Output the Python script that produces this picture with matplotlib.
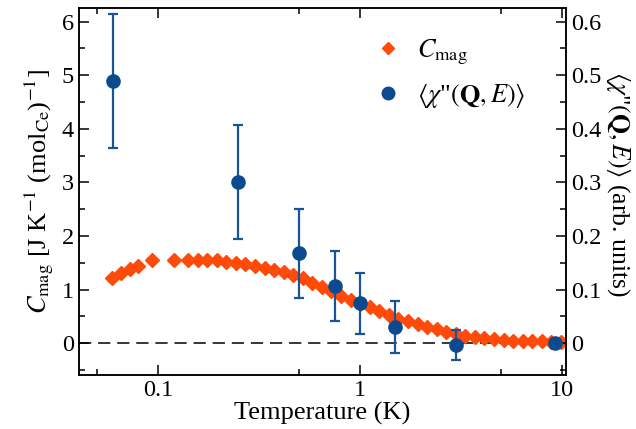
import matplotlib
matplotlib.use("Agg")
import matplotlib.pyplot as plt
from matplotlib.ticker import FixedLocator, NullFormatter, MultipleLocator
from matplotlib.lines import Line2D

plt.rcParams.update({
    "font.family": "Liberation Serif",
    "mathtext.fontset": "stix",
    "font.size": 19,
    "xtick.labelsize": 17.5,
    "ytick.labelsize": 17.5,
    "axes.linewidth": 1.1,
    "xtick.direction": "in",
    "ytick.direction": "in",
})

C_ORANGE = "#ff4a0a"
C_BLUE = "#0b4a8f"

# Magnetic specific heat (left axis)
t_cmag = [0.0592, 0.0658, 0.0724, 0.0796, 0.0934, 0.1196,
          0.141, 0.157, 0.175, 0.195, 0.218, 0.243, 0.271, 0.302, 0.337, 0.376,
          0.419, 0.468, 0.521, 0.581, 0.648, 0.723, 0.806, 0.899, 1.003, 1.118,
          1.247, 1.392, 1.552, 1.730, 1.930, 2.153, 2.40, 2.68, 2.99, 3.33,
          3.71, 4.14, 4.62, 5.15, 5.74, 6.41, 7.14, 7.96, 8.89, 9.91]
cmag = [1.22, 1.31, 1.38, 1.45, 1.56, 1.56,
        1.56, 1.55, 1.55, 1.55, 1.52, 1.50, 1.47, 1.44, 1.41, 1.37,
        1.33, 1.28, 1.21, 1.13, 1.05, 0.97, 0.89, 0.81, 0.74, 0.68,
        0.60, 0.53, 0.46, 0.41, 0.36, 0.31, 0.26, 0.21, 0.17, 0.14,
        0.11, 0.09, 0.075, 0.06, 0.05, 0.045, 0.04, 0.035, 0.03, 0.03]

# Integrated dynamic susceptibility (right axis)
t_chi = [0.06, 0.25, 0.5, 0.75, 1.0, 1.5, 3.0, 9.3]
chi = [0.49, 0.301, 0.168, 0.107, 0.075, 0.030, -0.003, 0.0]
chi_err = [0.125, 0.106, 0.083, 0.065, 0.057, 0.049, 0.028, 0.004]

fig = plt.figure(figsize=(6.36, 4.29), dpi=100)
ax = fig.add_axes([0.124, 0.126, 0.766, 0.855])
ax2 = ax.twinx()

ax.axhline(0, color="black", lw=1.1, ls=(0, (8, 4.5)), zorder=1)
ax.plot(t_cmag, cmag, ls="none", marker="D", ms=7.2, color=C_ORANGE,
        mec=C_ORANGE, zorder=2)
ax2.errorbar(t_chi, chi, yerr=chi_err, fmt="o", ms=9.5, color=C_BLUE,
             ecolor="#1a5396", elinewidth=1.6, capsize=3.5, capthick=1.6,
             zorder=3)

ax.set_xscale("log")
ax.set_xlim(0.0405, 10.5)
ax.set_ylim(-0.59, 6.25)
ax2.set_ylim(-0.059, 0.625)

ax.xaxis.set_major_locator(FixedLocator([0.1, 1, 10]))
ax.xaxis.set_minor_locator(FixedLocator([0.05, 0.5, 5]))
ax.xaxis.set_minor_formatter(NullFormatter())
ax.set_xticklabels(["0.1", "1", "10"])
ax.tick_params(axis="x", which="both", top=True)
ax.tick_params(which="major", length=7, width=1.1)
ax.tick_params(which="minor", length=4, width=1.1)

ax.yaxis.set_major_locator(MultipleLocator(1))
ax.yaxis.set_minor_locator(MultipleLocator(0.5))
ax2.yaxis.set_minor_locator(MultipleLocator(0.05))
ax2.set_yticks([0, 0.1, 0.2, 0.3, 0.4, 0.5, 0.6])
ax2.set_yticklabels(["0", "0.1", "0.2", "0.3", "0.4", "0.5", "0.6"])
ax2.tick_params(which="major", length=7, width=1.1)
ax2.tick_params(which="minor", length=4, width=1.1)

ax.set_xlabel("Temperature (K)", labelpad=1)
ax.set_ylabel(r"$C_{\rm mag}$ [J K$^{-1}$ (mol$_{\rm Ce}$)$^{-1}$]", labelpad=4)
ax2.set_ylabel(r'$\langle\chi$"$(\mathbf{Q},E)\rangle$ (arb. units)',
               rotation=270, fontsize=18.5, ha="center", va="center")
ax2.yaxis.set_label_coords(1.108, 0.52)

handles = [
    Line2D([], [], ls="none", marker="D", ms=6.5, color=C_ORANGE),
    Line2D([], [], ls="none", marker="o", ms=9, color=C_BLUE),
]
ax.legend(handles, [r"$C_{\rm mag}$", r'$\langle\chi$"$(\mathbf{Q},E)\rangle$'],
          loc="upper right", bbox_to_anchor=(0.965, 0.985), frameon=False,
          handletextpad=0.5, labelspacing=0.55, handlelength=1.2,
          fontsize=19)

fig.savefig("out.png", dpi=100)
